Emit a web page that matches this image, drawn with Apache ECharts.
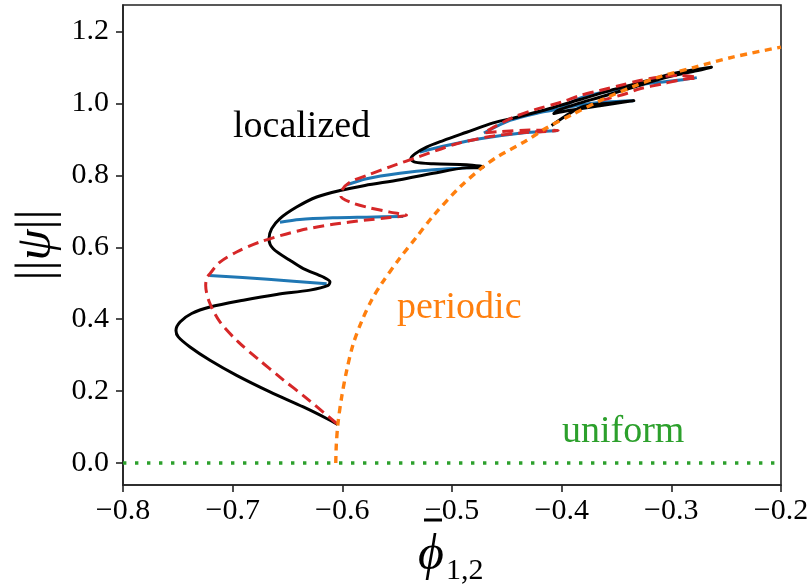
<!DOCTYPE html>
<html>
<head>
<meta charset="utf-8">
<script src="https://cdn.jsdelivr.net/npm/echarts@6/dist/echarts.min.js"></script>
<style>
html,body{margin:0;padding:0;background:#fff;}
#chart{width:812px;height:588px;}
</style>
</head>
<body>
<div id="chart"></div>
<script>
const xTicks = [-0.8, -0.7, -0.6, -0.5, -0.4, -0.3, -0.2];
const yTicks = [0.0, 0.2, 0.4, 0.6, 0.8, 1.0, 1.2];

const uniform = [[-0.8, 0], [-0.2, 0]];

const periodic = [[-0.606,0],[-0.6055,0.05],[-0.604,0.11],[-0.6006,0.184],[-0.596,0.258],[-0.590,0.332],[-0.582,0.397],[-0.573,0.455],[-0.564,0.50],[-0.548,0.568],[-0.532,0.63],[-0.517,0.688],[-0.493,0.767],[-0.472,0.823],[-0.459,0.851],[-0.432,0.897],[-0.414,0.932],[-0.39,0.97],[-0.365,1.008],[-0.335,1.047],[-0.31,1.075],[-0.28,1.10],[-0.244,1.129],[-0.2,1.157]];

const localizedStable = [[-0.6043,0.1075],[-0.6143,0.124],[-0.6356,0.156],[-0.666,0.198],[-0.6964,0.244],[-0.7207,0.286],[-0.7389,0.323],[-0.7496,0.351],[-0.7517,0.369],[-0.748,0.3925],[-0.7374,0.416],[-0.7207,0.434],[-0.6903,0.453],[-0.6599,0.469],[-0.6295,0.481],[-0.6129,0.494],[-0.6113,0.504],[-0.6174,0.5175],[-0.6356,0.541],[-0.6478,0.564],[-0.663,0.596],[-0.6669,0.624],[-0.6644,0.652],[-0.6569,0.680],[-0.6417,0.712],[-0.6234,0.740],[-0.6022,0.758],[-0.5794,0.772],[-0.5475,0.788],[-0.5171,0.806],[-0.4867,0.821],[-0.4745,0.8215],[-0.4716,0.8235],[-0.4745,0.826],[-0.4867,0.830],[-0.5171,0.8325],[-0.5338,0.837],[-0.5375,0.846],[-0.5338,0.860],[-0.5232,0.879],[-0.508,0.897],[-0.4867,0.920],[-0.4624,0.946],[-0.4381,0.964],[-0.4108,0.986],[-0.3834,1.011],[-0.3561,1.036],[-0.3287,1.058],[-0.3014,1.081],[-0.2786,1.094],[-0.2634,1.101],[-0.2786,1.090],[-0.3044,1.073],[-0.3348,1.045],[-0.3652,1.0175],[-0.388,0.997],[-0.4035,0.981],[-0.4071,0.972],[-0.3925,0.981],[-0.3652,0.994],[-0.3342,1.008],[-0.3561,1.001],[-0.3743,0.996],[-0.3852,0.986],[-0.3971,0.964],[-0.4092,0.939]];

const localizedUnstable = [[-0.6052,0.110],[-0.6325,0.180],[-0.6553,0.235],[-0.6767,0.289],[-0.6949,0.337],[-0.7116,0.3925],[-0.7213,0.448],[-0.7246,0.494],[-0.7237,0.514],[-0.7207,0.527],[-0.7116,0.559],[-0.6964,0.587],[-0.6751,0.615],[-0.6387,0.647],[-0.6083,0.664],[-0.5778,0.676],[-0.5566,0.683],[-0.5414,0.689],[-0.5566,0.698],[-0.5778,0.712],[-0.5931,0.726],[-0.6013,0.742],[-0.6006,0.758],[-0.5931,0.781],[-0.5778,0.800],[-0.5566,0.824],[-0.5293,0.853],[-0.4958,0.888],[-0.4654,0.908],[-0.4381,0.918],[-0.4032,0.925],[-0.429,0.926],[-0.4563,0.922],[-0.4709,0.918],[-0.4627,0.933],[-0.4445,0.961],[-0.4244,0.983],[-0.3998,1.004],[-0.3834,1.022],[-0.3652,1.036],[-0.3469,1.050],[-0.3287,1.064],[-0.3077,1.075],[-0.2922,1.078],[-0.2768,1.072],[-0.2895,1.067],[-0.3077,1.055],[-0.3287,1.041],[-0.3408,1.028],[-0.3561,1.015],[-0.3652,1.008]];

const rung1 = [[-0.7213,0.522],[-0.6678,0.511],[-0.6143,0.499]];
const rung2 = [[-0.6569,0.670],[-0.6387,0.6775],[-0.6083,0.682],[-0.5778,0.684],[-0.5445,0.686]];
const rung3 = [[-0.5961,0.774],[-0.5778,0.791],[-0.5475,0.806],[-0.5171,0.816],[-0.4867,0.821],[-0.4718,0.824]];
const rung4 = [[-0.5293,0.865],[-0.5049,0.883],[-0.4746,0.902],[-0.4381,0.9175],[-0.4032,0.925]];
const rung5 = [[-0.4709,0.918],[-0.4472,0.953],[-0.4199,0.975],[-0.4016,0.985],[-0.3834,0.996],[-0.3606,1.004],[-0.3342,1.008]];
const rung6 = [[-0.4053,0.978],[-0.3834,1.015],[-0.3469,1.041],[-0.3196,1.056],[-0.2895,1.066],[-0.2768,1.072]];

const FONT = '"Liberation Serif", "DejaVu Serif", serif';
const fmt = v => (Math.abs(v) < 1e-9 ? '0.0' : v.toFixed(1)).replace('-', '\u2212');

const chart = echarts.init(document.getElementById('chart'), null, {renderer: 'canvas'});

function lineSeries(data, color, width, type, z, smooth) {
  return {
    type: 'line', data: data, showSymbol: false, symbol: 'none',
    smooth: smooth, z: z, animation: false, silent: true,
    lineStyle: {color: color, width: width, type: type, cap: 'butt', join: 'round'}
  };
}

const rungs = [rung1, rung2, rung3, rung4, rung5, rung6];
const series = [];
rungs.forEach(r => series.push(lineSeries(r, '#1f77b4', 3, 'solid', 2, 0.3)));
series.push(lineSeries(localizedStable, '#000000', 3, 'solid', 3, 0.3));
series.push(lineSeries(localizedUnstable, '#d62728', 3, [11, 6], 4, 0.3));
series.push(lineSeries(periodic, '#ff7f0e', 3.4, [7, 5.5], 5, 0.3));
series.push(lineSeries(uniform, '#2ca02c', 3.4, [3.4, 8.6], 5, false));

const option = {
  animation: false,
  backgroundColor: '#ffffff',
  grid: {left: 123, right: 31, top: 5, bottom: 103, show: true, borderColor: '#222', borderWidth: 1.6, outerBoundsMode: 'none', containLabel: false},
  xAxis: {
    type: 'value', min: -0.8, max: -0.2,
    axisLine: {show: true, onZero: false, lineStyle: {color: '#222', width: 1.6}},
    axisTick: {show: true, inside: false, length: 7, lineStyle: {color: '#222', width: 1.6}, customValues: xTicks},
    axisLabel: {customValues: xTicks, formatter: fmt, fontSize: 30, fontFamily: FONT, color: '#000', margin: 11},
    splitLine: {show: false}
  },
  yAxis: {
    type: 'value', min: -0.061, max: 1.274,
    axisLine: {show: true, onZero: false, lineStyle: {color: '#222', width: 1.6}},
    axisTick: {show: true, inside: false, length: 7, lineStyle: {color: '#222', width: 1.6}, customValues: yTicks},
    axisLabel: {customValues: yTicks, formatter: fmt, fontSize: 30, fontFamily: FONT, color: '#000', margin: 14},
    splitLine: {show: false}
  },
  series: series,
  graphic: [
    {type: 'text', left: 233, top: 108, z: 10, style: {text: 'localized', font: '38px ' + FONT, fill: '#000'}},
    {type: 'text', left: 397, top: 289, z: 10, style: {text: 'periodic', font: '38px ' + FONT, fill: '#ff7f0e'}},
    {type: 'text', left: 562, top: 413, z: 10, style: {text: 'uniform', font: '38px ' + FONT, fill: '#2ca02c'}},
    {type: 'text', x: 37, y: 245, rotation: Math.PI / 2, z: 10,
      style: {text: '{b|||}{p|\u03C8}{b|||}', align: 'center', verticalAlign: 'middle',
        rich: {b: {font: '50px ' + FONT, fill: '#000'}, p: {font: 'italic 50px ' + FONT, fill: '#000'}}}},
    {type: 'text', x: 431, y: 556, z: 10, style: {text: '\u03D5', font: 'italic 50px ' + FONT, fill: '#000', align: 'center', verticalAlign: 'middle'}},
    {type: 'line', z: 10, shape: {x1: 424, y1: 520, x2: 442, y2: 520}, style: {stroke: '#000', lineWidth: 3}},
    {type: 'text', x: 446, y: 571, z: 10, style: {text: '1,2', font: '30px ' + FONT, fill: '#000', align: 'left', verticalAlign: 'middle'}}
  ]
};
chart.setOption(option);
</script>
</body>
</html>
